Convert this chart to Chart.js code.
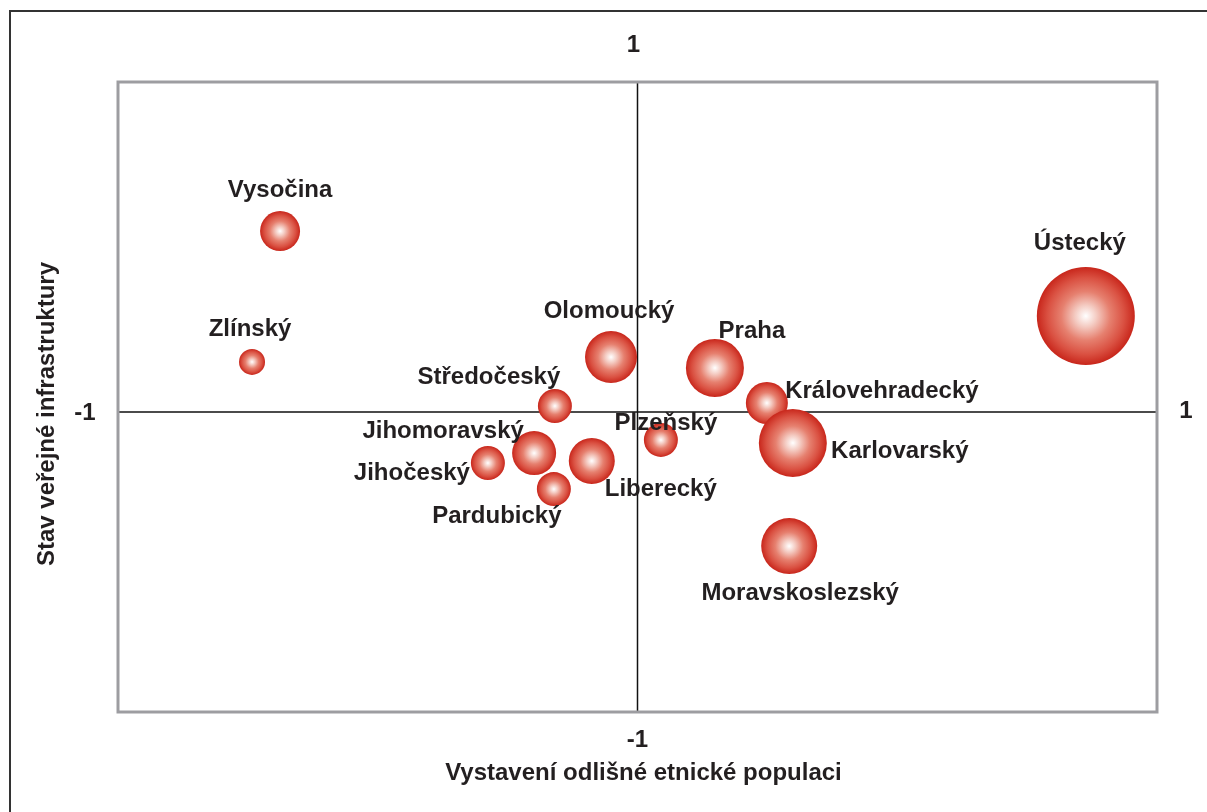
<!DOCTYPE html>
<html lang="cs">
<head>
<meta charset="utf-8">
<title>Kraje - bublinový graf</title>
<script src="https://cdn.jsdelivr.net/npm/chart.js@4/dist/chart.umd.min.js"></script>
<style>
    html, body { margin: 0; padding: 0; background: #ffffff; overflow: hidden; }
    #wrap { position: relative; width: 1207px; height: 812px; overflow: hidden; }
    #ramecek {
        position: absolute; left: 9px; top: 10px; width: 1300px; height: 900px;
        border-top: 2px solid #333333; border-left: 2px solid #333333;
    }
    #graf { position: absolute; left: 0; top: 0; }
</style>
</head>
<body>
<div id="wrap">
    <div id="ramecek"></div>
    <canvas id="graf" width="1207" height="812"></canvas>
</div>
<script>
// Kraje a jejich hodnoty
const kraje = ['Vysočina', 'Zlínský', 'Olomoucký', 'Středočeský', 'Jihomoravský', 'Liberecký', 'Jihočeský',
    'Pardubický', 'Plzeňský', 'Praha', 'Královehradecký', 'Karlovarský', 'Moravskoslezský', 'Ústecký'];

// Vystavení odlišné etnické populaci
const hodnotyX = [-0.688, -0.742, -0.051, -0.159, -0.199, -0.088, -0.288, -0.161, 0.045, 0.149, 0.249, 0.299, 0.292, 0.863];

// Stav veřejné infrastruktury
const hodnotyY = [0.603, 0.167, 0.183, 0.020, -0.137, -0.163, -0.170, -0.257, -0.093, 0.147, 0.030, -0.103, -0.447, 0.320];

// Velikost bubliny
const velikost = [20, 13, 26, 17, 22, 23, 17, 17, 17, 29, 21, 34, 28, 49];

// Popisky kvadrantů
const popiskyOs = { nahore: '1', dole: '-1', vlevo: '-1', vpravo: '1' };

// Posun popisků vůči středu bubliny (px)
const posunPopisku = [[0, -41], [-2, -33], [-2, -46], [-66, -29], [-91, -22], [69, 28], [-76, 10],
    [-57, 27], [5, -17], [37, -37], [115, -12], [107, 8], [11, 47], [-6, -73]];

const FONT = "bold 24px 'Liberation Sans', Arial, sans-serif";
const TEXT_COLOR = '#231f20';

const body = kraje.map((k, i) => ({ x: hodnotyX[i], y: hodnotyY[i], r: velikost[i] }));

function gradientBubliny(ctx) {
    const chart = ctx.chart;
    const raw = ctx.raw;
    if (!raw || !chart.scales || !chart.scales.x || !chart.scales.y) return '#d0301f';
    const px = chart.scales.x.getPixelForValue(raw.x);
    const py = chart.scales.y.getPixelForValue(raw.y);
    if (!isFinite(px) || !isFinite(py)) return '#d0301f';
    const g = chart.ctx.createRadialGradient(px, py, 0, px, py, raw.r);
    g.addColorStop(0, '#ffffff');
    g.addColorStop(0.22, '#f4cbc2');
    g.addColorStop(0.5, '#e6806f');
    g.addColorStop(0.78, '#da5142');
    g.addColorStop(1, '#c8261b');
    return g;
}

const ramecekPlugin = {
    id: 'ramecek',
    beforeDatasetsDraw(chart) {
        const { ctx, chartArea: a, scales } = chart;
        ctx.save();
        // osy kříže
        ctx.strokeStyle = '#111111';
        ctx.lineWidth = 1.5;
        const x0 = scales.x.getPixelForValue(0);
        const y0 = scales.y.getPixelForValue(0);
        ctx.beginPath();
        ctx.moveTo(x0, a.top); ctx.lineTo(x0, a.bottom);
        ctx.moveTo(a.left, y0); ctx.lineTo(a.right, y0);
        ctx.stroke();
        ctx.restore();
    },
    afterDatasetsDraw(chart) {
        const { ctx, chartArea: a, scales } = chart;
        ctx.save();
        // rámeček grafu
        ctx.strokeStyle = '#9d9da1';
        ctx.lineWidth = 3;
        ctx.strokeRect(a.left, a.top, a.right - a.left, a.bottom - a.top);

        ctx.font = FONT;
        ctx.fillStyle = TEXT_COLOR;
        ctx.textAlign = 'center';
        ctx.textBaseline = 'middle';

        // popisky bublin
        const meta = chart.getDatasetMeta(0);
        meta.data.forEach((el, i) => {
            const [dx, dy] = posunPopisku[i];
            ctx.fillText(kraje[i], el.x + dx, el.y + dy);
        });

        // popisky kvadrantů
        const x0 = scales.x.getPixelForValue(0);
        const y0 = scales.y.getPixelForValue(0);
        ctx.fillText(popiskyOs.nahore, x0 - 4, a.top - 37);
        ctx.fillText(popiskyOs.dole, x0, a.bottom + 28);
        ctx.fillText(popiskyOs.vlevo, a.left - 33, y0 + 1);
        ctx.fillText(popiskyOs.vpravo, a.right + 29, y0 - 1);

        // názvy os
        ctx.fillText('Vystavení odlišné etnické populaci', (a.left + a.right) / 2 + 6, a.bottom + 61);
        ctx.translate(47, y0 + 2);
        ctx.rotate(-Math.PI / 2);
        ctx.fillText('Stav veřejné infrastruktury', 0, 0);
        ctx.restore();
    }
};

const graf = new Chart(document.getElementById('graf'), {
    type: 'bubble',
    data: {
        labels: kraje,
        datasets: [{
            label: 'Kraje',
            data: body,
            backgroundColor: gradientBubliny,
            borderWidth: 0,
            hoverBorderWidth: 0
        }]
    },
    options: {
        responsive: false,
        animation: false,
        events: [],
        layout: { padding: { left: 118, right: 50, top: 82, bottom: 100 } },
        plugins: {
            legend: { display: false },
            tooltip: { enabled: false }
        },
        scales: {
            x: { type: 'linear', min: -1, max: 1, display: false },
            y: { type: 'linear', min: -1, max: 1.1, display: false }
        }
    },
    plugins: [ramecekPlugin]
});
graf.update();
</script>
</body>
</html>
